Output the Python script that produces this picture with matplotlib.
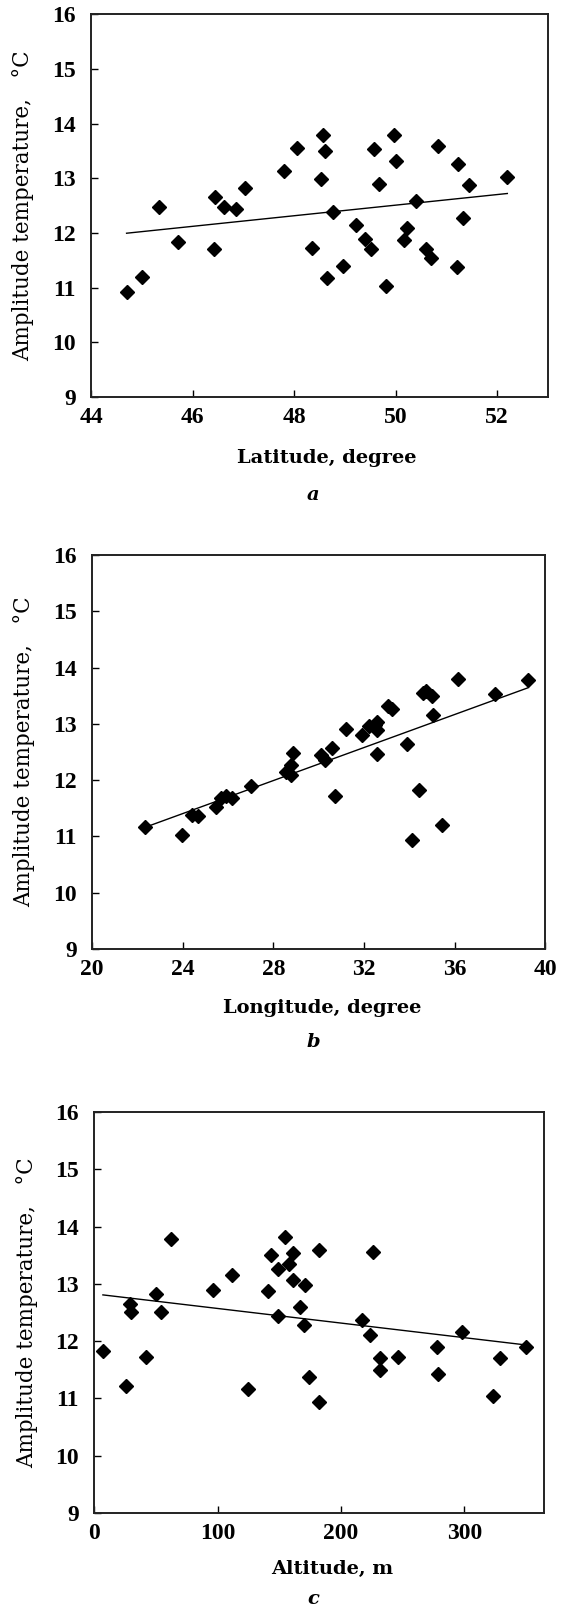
import numpy as np
import matplotlib
matplotlib.use("Agg")
import matplotlib.pyplot as plt

plt.rcParams['font.family'] = ['DejaVu Serif']

# --- data ---
lat = [44.70, 45.00, 45.34, 45.71, 46.44, 46.42, 46.62, 46.85, 47.03, 47.80,
       48.05, 48.56, 48.60, 48.53, 48.76, 48.35, 48.64, 48.96, 49.21, 49.39,
       49.51, 49.58, 49.67, 49.81, 49.96, 50.00, 50.17, 50.22, 50.40, 50.60,
       50.69, 50.84, 51.20, 51.23, 51.32, 51.45, 52.20]
amp_lat = [10.93, 11.20, 12.48, 11.84, 12.65, 11.70, 12.48, 12.44, 12.82, 13.13,
           13.56, 13.80, 13.49, 12.99, 12.38, 11.73, 11.17, 11.40, 12.15, 11.89,
           11.71, 13.53, 12.90, 11.03, 13.80, 13.32, 11.88, 12.10, 12.59, 11.71,
           11.54, 13.59, 11.37, 13.26, 12.28, 12.88, 13.02]

lon = [22.33, 23.96, 24.42, 24.67, 25.46, 25.67, 25.89, 26.16, 27.00, 28.56,
       28.76, 28.76, 28.88, 30.10, 30.28, 30.57, 30.74, 31.22, 31.93, 32.24,
       32.49, 32.56, 32.56, 32.56, 33.05, 33.23, 33.89, 34.11, 34.42, 34.59,
       34.73, 35.02, 35.04, 35.43, 36.14, 37.78, 39.26]
amp_lon = [11.16, 11.03, 11.38, 11.36, 11.52, 11.68, 11.72, 11.69, 11.89, 12.15,
           12.27, 12.09, 12.49, 12.44, 12.36, 12.57, 11.72, 12.90, 12.80, 12.96,
           12.98, 13.04, 12.89, 12.47, 13.31, 13.26, 12.64, 10.93, 11.82, 13.54,
           13.59, 13.50, 13.15, 11.20, 13.79, 13.53, 13.78]

alt = [7, 26, 29, 30, 42, 50, 54, 62, 96, 112,
       125, 141, 143, 149, 149, 155, 158, 161, 161, 167,
       170, 171, 174, 182, 182, 217, 224, 226, 232, 232,
       246, 278, 279, 298, 323, 329, 350]
amp_alt = [11.83, 11.22, 12.65, 12.51, 11.73, 12.82, 12.51, 13.78, 12.89, 13.15,
           11.16, 12.88, 13.50, 13.26, 12.44, 13.81, 13.34, 13.53, 13.06, 12.60,
           12.28, 12.98, 11.37, 13.59, 10.93, 12.37, 12.11, 13.55, 11.70, 11.50,
           11.73, 11.89, 11.42, 12.16, 11.05, 11.70, 11.89]

yticks = list(range(9, 17))
YLABEL = 'Amplitude temperature,   °C'
TICKFONT = dict(family='Liberation Serif', fontweight='bold', fontsize=17)

panels = [
    # x, y, xlim, xticks, xlabel, letter, axes rect, xlabel pos, letter y
    (lat, amp_lat, (44, 53), [44, 46, 48, 50, 52], 'Latitude, degree', 'a',
     [0.160, 0.7532, 0.803, 0.2380], (0.516, -0.159), 0.6924),
    (lon, amp_lon, (20, 40), [20, 24, 28, 32, 36, 40], 'Longitude, degree', 'b',
     [0.162, 0.4102, 0.796, 0.2449], (0.507, -0.150), 0.3524),
    (alt, amp_alt, (0, 365), [0, 100, 200, 300], 'Altitude, m', 'c',
     [0.1657, 0.0597, 0.791, 0.2492], (0.529, -0.140), 0.0060),
]

fig = plt.figure(figsize=(5.69, 16.09), dpi=100)

for x, y, xlim, xticks, xlabel, letter, rect, xlpos, ly in panels:
    ax = fig.add_axes(rect)
    x = np.array(x, dtype=float)
    y = np.array(y, dtype=float)

    ax.plot(x, y, 'D', color='black', markersize=7, zorder=3)

    # linear trend
    k, b = np.polyfit(x, y, 1)
    xx = np.array([x.min(), x.max()])
    ax.plot(xx, k * xx + b, color='black', linewidth=1.0, zorder=2)

    ax.set_xlim(*xlim)
    ax.set_ylim(9, 16)
    ax.set_xticks(xticks, labels=[str(v) for v in xticks], **TICKFONT)
    ax.set_yticks(yticks, labels=[str(v) for v in yticks], **TICKFONT)
    ax.tick_params(direction='in', length=5, width=1.0, top=False, right=False)
    ax.tick_params(axis='x', pad=7)
    ax.tick_params(axis='y', pad=11)
    for s in ax.spines.values():
        s.set_linewidth(1.4)
        s.set_color('#222222')

    ax.set_xlabel(xlabel, fontsize=14, fontweight='bold', va='center')
    ax.xaxis.set_label_coords(*xlpos)
    ax.set_ylabel(YLABEL, fontsize=15.5)
    ax.yaxis.set_label_coords(-0.125, 0.5)

    fig.text(0.55, ly, letter, fontsize=14, fontweight='bold', style='italic',
             ha='center', va='center')

fig.savefig('out.png', dpi=100)
